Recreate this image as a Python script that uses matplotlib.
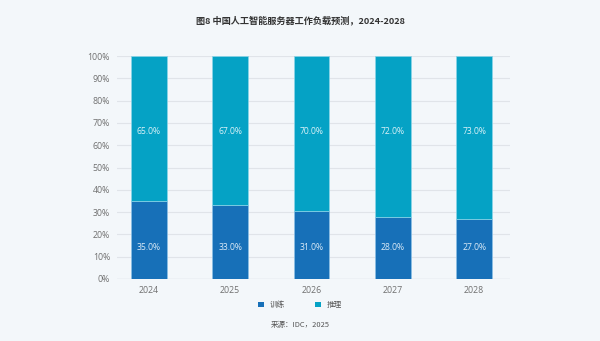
import matplotlib
matplotlib.use("Agg")
import matplotlib.pyplot as plt
import numpy as np
from matplotlib.patches import Patch

plt.rcParams['font.family'] = ['Noto Sans CJK SC', 'DejaVu Sans']

years = ['2024', '2025', '2026', '2027', '2028']
training = [35.0, 33.0, 31.0, 28.0, 27.0]
inference = [65.0, 67.0, 70.0, 72.0, 73.0]
title = '图8 中国人工智能服务器工作负载预测，2024-2028'
source = '来源：IDC，2025'

c_train = '#1770b8'
c_inf = '#05a2c5'
bg = '#f3f7fa'
num_font = ['Open Sans', 'DejaVu Sans']

tr = np.array(training)
inf = np.array(inference)
tot = tr + inf
tr_n = tr / tot * 100
inf_n = inf / tot * 100

fig = plt.figure(figsize=(6, 3.41), dpi=100, facecolor=bg)
ax = fig.add_axes([117/600, 1-279/341, (510-117)/600, (279-56)/341])
ax.set_facecolor(bg)
x = np.arange(len(years))
w = 0.44
ax.bar(x, tr_n, w, color=c_train, edgecolor='#8cc0e6', linewidth=0.5, zorder=3)
ax.bar(x, inf_n, w, bottom=tr_n, color=c_inf, edgecolor='#8cd6e8', linewidth=0.5, zorder=3)
for i in range(len(years)):
    ax.text(x[i], 14.0, f'{training[i]:.1f}%', ha='center', va='center',
            color='#dcebf7', fontsize=6.2, family=num_font, zorder=4)
    ax.text(x[i], 66.3, f'{inference[i]:.1f}%', ha='center', va='center',
            color='#dcf2f8', fontsize=6.2, family=num_font, zorder=4)

ax.set_xlim(-0.39, 4.44)
ax.set_ylim(0, 100)
ax.set_yticks(np.arange(0, 101, 10))
ax.set_yticklabels([f'{v}%' for v in range(0, 101, 10)], family=num_font)
ax.set_xticks(x)
ax.set_xticklabels(years, family=num_font)
ax.tick_params(axis='both', length=0, labelsize=6.3, colors='#707070')
ax.tick_params(axis='y', pad=5)
ax.tick_params(axis='x', pad=5)
ax.grid(axis='y', color='#e0e4e9', linewidth=0.8, zorder=0)
for s in ax.spines.values():
    s.set_visible(False)
ax.axhline(0, color='#d2d6dc', linewidth=0.9, zorder=2)

fig.text(0.5, 1-20/341, title, ha='center', va='center', fontsize=6.6,
         fontweight='bold', color='#333333')

handles = [Patch(facecolor=c_train, label='训练'), Patch(facecolor=c_inf, label='推理')]
fig.legend(handles=handles, loc='center', bbox_to_anchor=(0.5, 1-305/341), ncol=2,
           frameon=False, fontsize=5.5, handlelength=0.75, handleheight=0.75,
           columnspacing=4.0, handletextpad=0.7, labelcolor='#555555')
fig.text(0.5, 1-325/341, source, ha='center', va='center', fontsize=5.4, color='#555555')

fig.savefig('out.png', dpi=100, facecolor=bg)
